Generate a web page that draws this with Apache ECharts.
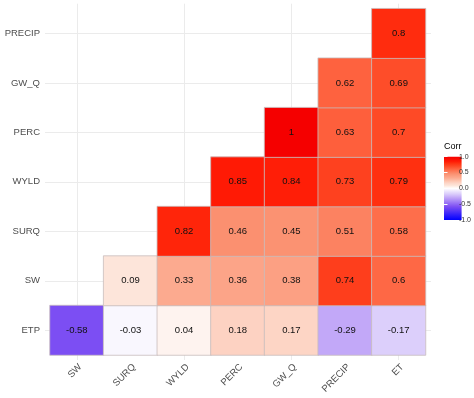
<!DOCTYPE html>
<html>
<head>
<meta charset="utf-8">
<script src="https://cdn.jsdelivr.net/npm/echarts@6/dist/echarts.min.js"></script>
<style>
  html, body { margin: 0; padding: 0; background: #fff; }
  #chart { width: 474px; height: 398px; }
</style>
</head>
<body>
<div id="chart"></div>
<script>
// variables on x (left to right) and y (bottom to top)
var xVars = ['SW', 'SURQ', 'WYLD', 'PERC', 'GW_Q', 'PRECIP', 'ET'];
var yVars = ['ETP', 'SW', 'SURQ', 'WYLD', 'PERC', 'GW_Q', 'PRECIP'];

// one row per y variable, null = empty (upper triangle)
var rowETP    = [-0.58, -0.03, 0.04, 0.18, 0.17, -0.29, -0.17];
var rowSW     = [null, 0.09, 0.33, 0.36, 0.38, 0.74, 0.6];
var rowSURQ   = [null, null, 0.82, 0.46, 0.45, 0.51, 0.58];
var rowWYLD   = [null, null, null, 0.85, 0.84, 0.73, 0.79];
var rowPERC   = [null, null, null, null, 1, 0.63, 0.7];
var rowGWQ    = [null, null, null, null, null, 0.62, 0.69];
var rowPRECIP = [null, null, null, null, null, null, 0.8];

var legendTicks = [-1, -0.5, 0, 0.5, 1];

var rows = [rowETP, rowSW, rowSURQ, rowWYLD, rowPERC, rowGWQ, rowPRECIP];
var cells = [];
rows.forEach(function(r, yi) {
	r.forEach(function(v, xi) {
		if (v !== null) cells.push([xi, yi, v]);
	});
});

// colour ramp (blue - white - red), anchor colours
var rampAt = [-1, -0.58, -0.29, -0.17, 0, 0.09, 0.17, 0.33, 0.46, 0.6, 0.7, 0.79, 0.85, 1];
var rampCol = ['#0000ff', '#7c4ef3', '#c2a8f8', '#dccffb', '#ffffff', '#fde5da', '#fdd5c5',
	'#fcaa8f', '#fb9070', '#fe6845', '#fe4a26', '#ff3010', '#ff1a05', '#f50000'];

function hexRgb(h) {
	return [1, 3, 5].map(function(i) { return parseInt(h.substr(i, 2), 16); });
}
function corrColor(v) {
	var k = 0;
	while (k < rampAt.length - 2 && v > rampAt[k + 1]) k++;
	var t = (v - rampAt[k]) / (rampAt[k + 1] - rampAt[k]);
	t = Math.max(0, Math.min(1, t));
	var a = hexRgb(rampCol[k]), b = hexRgb(rampCol[k + 1]);
	return 'rgb(' + [0, 1, 2].map(function(i) { return Math.round(a[i] + (b[i] - a[i]) * t); }).join(',') + ')';
}
var stops = [];
for (var i = 0; i <= 200; i++) stops.push(corrColor(-1 + i / 100));
var barStops = [];
for (var j = 0; j <= 100; j++) barStops.push({ offset: j / 100, color: corrColor(1 - j / 50) });

var axisFont = { fontFamily: 'Liberation Sans, Arial', fontSize: 9.5, color: '#4d4d4d' };
var gridLine = { show: true, lineStyle: { color: '#ebebeb', width: 1 } };

var myChart = echarts.init(document.getElementById('chart'));
var option = {
	backgroundColor: '#fff',
	animation: false,
	grid: [
		// tiles
		{ left: 50, right: 48.5, top: 8.7, bottom: 43 },
		// vertical grid lines
		{ left: 76.8, right: 75.3, top: 3.7, bottom: 38 },
		// horizontal grid lines
		{ left: 45, right: 43, top: 33.4, bottom: 67.7 },
		// colour bar
		{ left: 444, top: 156.7, width: 17.6, height: 63.3 }
	],
	xAxis: [{
		gridIndex: 0,
		type: 'category',
		data: xVars,
		axisLine: { show: false },
		axisTick: { show: false },
		splitLine: { show: false },
		axisLabel: Object.assign({ rotate: 45, margin: 7, verticalAlign: 'top' }, axisFont)
	}, {
		gridIndex: 1,
		type: 'category',
		data: xVars,
		boundaryGap: false,
		axisLine: { show: false },
		axisTick: { show: false },
		axisLabel: { show: false },
		splitLine: gridLine
	}, {
		gridIndex: 2, type: 'value', show: false
	}, {
		gridIndex: 3, type: 'value', show: false
	}],
	yAxis: [{
		gridIndex: 0,
		type: 'category',
		data: yVars,
		axisLine: { show: false },
		axisTick: { show: false },
		splitLine: { show: false },
		axisLabel: Object.assign({ margin: 10 }, axisFont)
	}, {
		gridIndex: 1, type: 'value', show: false
	}, {
		gridIndex: 2,
		type: 'category',
		data: yVars,
		boundaryGap: false,
		axisLine: { show: false },
		axisTick: { show: false },
		axisLabel: { show: false },
		splitLine: gridLine
	}, {
		gridIndex: 3,
		type: 'value',
		position: 'right',
		min: -1,
		max: 1,
		interval: 0.5,
		z: 5,
		axisLine: { show: false },
		axisTick: { show: true, inside: true, length: 3.5, lineStyle: { color: '#fff', width: 1 } },
		splitLine: { show: false },
		axisLabel: {
			margin: 2,
			fontFamily: 'Liberation Sans, Arial',
			fontSize: 7,
			color: '#333',
			formatter: function(v) {
				return legendTicks.indexOf(v) >= 0 ? v.toFixed(1) : '';
			}
		}
	}, {
		gridIndex: 3,
		type: 'value',
		position: 'left',
		min: -1,
		max: 1,
		interval: 0.5,
		z: 5,
		axisLine: { show: false },
		axisTick: { show: true, inside: true, length: 3.5, lineStyle: { color: '#fff', width: 1 } },
		splitLine: { show: false },
		axisLabel: { show: false }
	}],
	visualMap: {
		show: false,
		type: 'continuous',
		min: -1,
		max: 1,
		dimension: 2,
		seriesIndex: 0,
		inRange: { color: stops }
	},
	graphic: [{
		type: 'rect',
		z: 1,
		shape: { x: 444, y: 156.7, width: 17.6, height: 63.3 },
		style: { fill: new echarts.graphic.LinearGradient(0, 0, 0, 1, barStops) }
	}, {
		type: 'text',
		left: 444,
		top: 142,
		style: { text: 'Corr', fontFamily: 'Liberation Sans, Arial', fontSize: 9, fill: '#000' }
	}],
	series: [{
		type: 'heatmap',
		xAxisIndex: 0,
		yAxisIndex: 0,
		data: cells,
		itemStyle: { borderColor: '#c8bcbc', borderWidth: 0.8 },
		label: {
			show: true,
			fontFamily: 'Liberation Sans, Arial',
			fontSize: 9.5,
			color: '#111',
			formatter: function(p) { return String(p.value[2]); }
		},
		emphasis: { disabled: true }
	}]
};
myChart.setOption(option);
</script>
</body>
</html>
